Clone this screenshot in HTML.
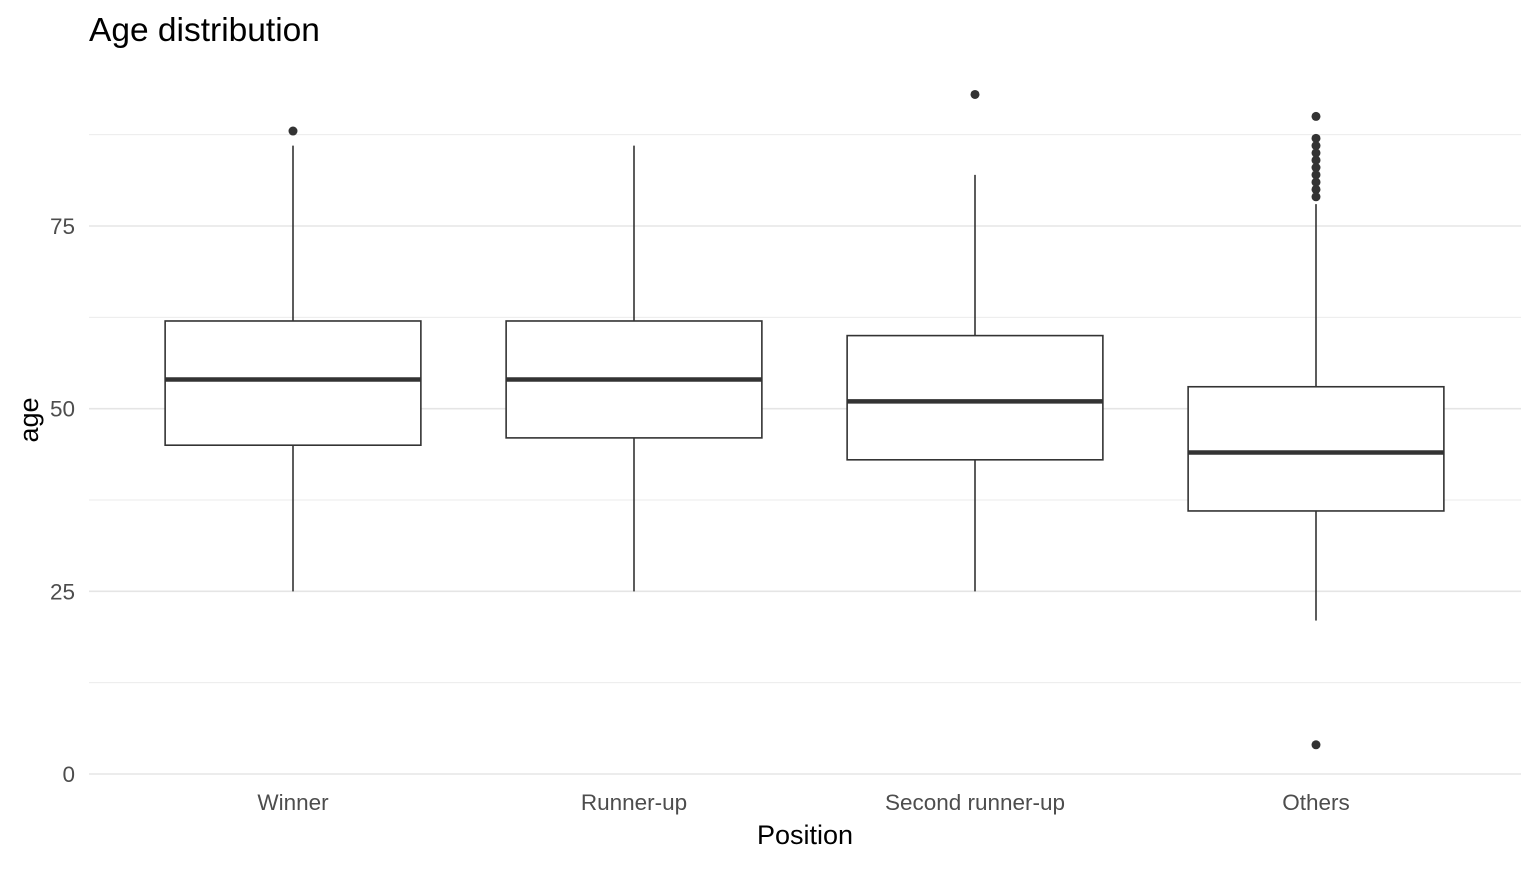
<!DOCTYPE html>
<html><head><meta charset="utf-8"><style>
body{margin:0;background:#fff;font-family:"Liberation Sans",Arial,sans-serif}
</style></head><body>
<svg width="1536" height="864" xmlns="http://www.w3.org/2000/svg">
<text x="89" y="41" font-size="33.5" fill="#000">Age distribution</text>
<g id="grid"></g>
<g id="yticks"></g>
<g id="xticks"></g>
<g id="boxes"></g>
<text x="805" y="844" font-size="27" text-anchor="middle" fill="#000">Position</text>
<text transform="translate(38,420) rotate(-90)" font-size="27" text-anchor="middle" fill="#000">age</text>
</svg>
<script>
const categories=["Winner","Runner-up","Second runner-up","Others"];
const lowers=[25,25,25,21];
const q1s=[45,46,43,36];
const medians=[54,54,51,44];
const q3s=[62,62,60,53];
const uppers=[86,86,82,78];
const outliers=[[88],[],[93],[90,87,86,85,84,83,82,81,80,79,4]];
const yTicks=[0,25,50,75];
const yMinor=[12.5,37.5,62.5,87.5];
const NS="http://www.w3.org/2000/svg";
const x0=89,x1=1521,step=341;
const y=v=>774-v*(548/75);
const xc=i=>293+step*i;
function mk(t,a,p){const e=document.createElementNS(NS,t);for(const k in a)e.setAttribute(k,a[k]);p.appendChild(e);return e;}
const grid=document.getElementById('grid'),yt=document.getElementById('yticks'),xt=document.getElementById('xticks'),bx=document.getElementById('boxes');
yMinor.forEach(v=>{const l=mk('line',{x1:x0,x2:x1,y1:y(v),y2:y(v),stroke:'#ebebeb','stroke-width':1},grid);

});
yTicks.forEach(v=>{const l=mk('line',{x1:x0,x2:x1,y1:y(v),y2:y(v),stroke:'#e5e5e5','stroke-width':1.6},grid);


const t=mk('text',{x:75,y:y(v)+8,'font-size':22.5,'text-anchor':'end',fill:'#4d4d4d'},yt);t.textContent=v;

});
categories.forEach((c,i)=>{
const t=mk('text',{x:xc(i),y:810,'font-size':22.5,'text-anchor':'middle',fill:'#4d4d4d'},xt);t.textContent=c;


const g=mk('g',{},bx);


const cx=xc(i),hw=step*0.375;
mk('line',{x1:cx,x2:cx,y1:y(q3s[i]),y2:y(uppers[i]),stroke:'#333','stroke-width':1.6},g);
mk('line',{x1:cx,x2:cx,y1:y(q1s[i]),y2:y(lowers[i]),stroke:'#333','stroke-width':1.6},g);
mk('rect',{x:cx-hw,y:y(q3s[i]),width:2*hw,height:y(q1s[i])-y(q3s[i]),fill:'#fff',stroke:'#333','stroke-width':1.6},g);
mk('line',{x1:cx-hw,x2:cx+hw,y1:y(medians[i]),y2:y(medians[i]),stroke:'#333','stroke-width':4.5},g);
outliers[i].forEach(o=>{const p=mk('circle',{cx:cx,cy:y(o),r:4.5,fill:'#333'},g);

});
});
</script>
</body></html>
